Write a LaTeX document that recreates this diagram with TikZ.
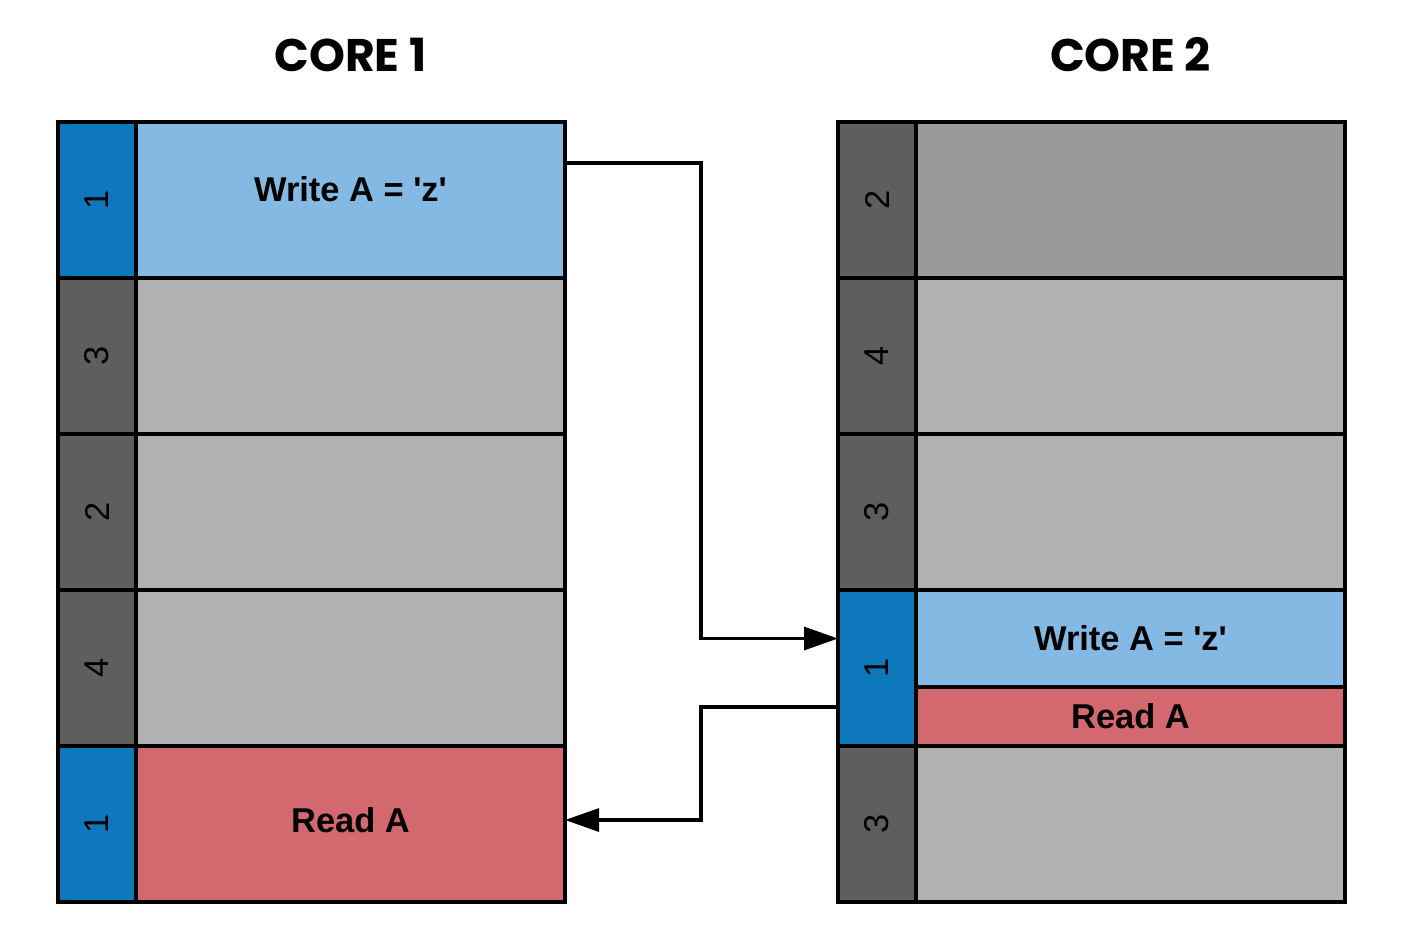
\documentclass[tikz,border=0pt]{standalone}
\usepackage{fontspec}
\setmainfont{Liberation Sans}
\newfontfamily\titlefont{Poppins}
\usetikzlibrary{arrows.meta, positioning}

\definecolor{tagblue}{HTML}{0E78BC}
\definecolor{writeblue}{HTML}{83B9E3}
\definecolor{readred}{HTML}{D4686F}
\definecolor{taggray}{HTML}{5E5E5E}
\definecolor{slotgray}{HTML}{B2B2B2}
\definecolor{darkslot}{HTML}{9A9A9A}

\newcommand{\storez}{Write A = \textquotesingle z\textquotesingle}

\begin{document}
\begin{tikzpicture}[
    font=\fontsize{9.8}{11}\selectfont,
    >={Triangle[length=3.4mm, width=2.3mm]},
    cell/.style={rectangle, draw=black, line width=1.1pt, outer sep=0pt, inner sep=0pt, minimum height=1.56cm},
    tag/.style={cell, minimum width=0.78cm, fill=taggray},
    active/.style={tag, fill=tagblue},
    slot/.style={cell, minimum width=4.29cm, fill=slotgray, font=\fontsize{9.8}{11}\selectfont\bfseries},
    write/.style={slot, fill=writeblue},
    read/.style={slot, fill=readred},
    title/.style={font=\titlefont\fontsize{13}{15}\selectfont\bfseries, inner sep=0pt},
    flow/.style={->, line width=0.9pt}
]
\useasboundingbox (0,0) rectangle (14.24,9.34);

% Core 1
\node[active, anchor=north west] (ta1) at (0.58,8.12) {\rotatebox{90}{1}};
\node[write, right=0pt of ta1] (sa1) {\raisebox{0.22cm}{\storez}};
\node[tag, below=0pt of ta1] (ta2) {\rotatebox{90}{3}};
\node[slot, right=0pt of ta2] (sa2) {};
\node[tag, below=0pt of ta2] (ta3) {\rotatebox{90}{2}};
\node[slot, right=0pt of ta3] (sa3) {};
\node[tag, below=0pt of ta3] (ta4) {\rotatebox{90}{4}};
\node[slot, right=0pt of ta4] (sa4) {};
\node[active, below=0pt of ta4] (ta5) {\rotatebox{90}{1}};
\node[read, right=0pt of ta5] (sa5) {\raisebox{0.08cm}{Read A}};

\node[title, above=0.49cm of sa1] (core1) {CORE 1};

% Core 2
\node[tag, anchor=north west] (tb1) at (8.38,8.12) {\rotatebox{90}{2}};
\node[slot, fill=darkslot, right=0pt of tb1] (sb1) {};
\node[tag, below=0pt of tb1] (tb2) {\rotatebox{90}{4}};
\node[slot, right=0pt of tb2] (sb2) {};
\node[tag, below=0pt of tb2] (tb3) {\rotatebox{90}{3}};
\node[slot, right=0pt of tb3] (sb3) {};
\node[active, below=0pt of tb3] (tb4) {\rotatebox{90}{1}};
\node[write, minimum height=0.97cm, anchor=north west] (wb4) at (tb4.north east) {\storez};
\node[read, minimum height=0.59cm, below=0pt of wb4] (rb4) {Read A};
\node[tag, below=0pt of tb4] (tb5) {\rotatebox{90}{3}};
\node[slot, right=0pt of tb5] (sb5) {};

\node[title, above=0.49cm of sb1] (core2) {CORE 2};

% Arrows
\draw[flow] ([yshift=0.37cm]sa1.east) -- ++(1.36,0) |- (tb4.west |- wb4.center);
\draw[flow] ([yshift=-0.39cm]tb4.west) -- ++(-1.37,0) |- ([yshift=0.04cm]sa5.east);

\end{tikzpicture}
\end{document}
